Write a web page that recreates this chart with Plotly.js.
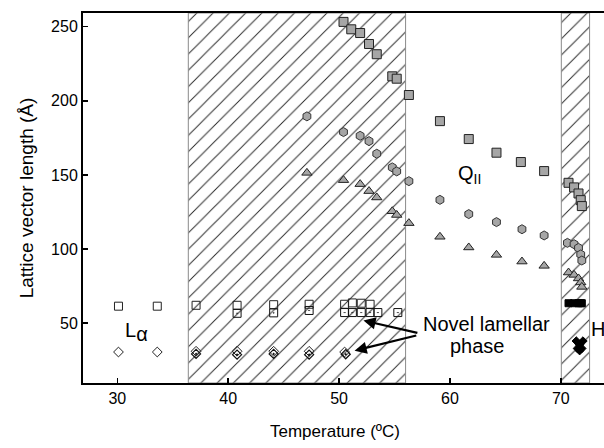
<!DOCTYPE html>
<html>
<head>
<meta charset="utf-8">
<script src="https://cdn.plot.ly/plotly-3.0.1.min.js"></script>
<style>html,body{margin:0;padding:0;background:#fff;}#chart{width:604px;height:448px;}</style>
</head>
<body>
<div id="chart"></div>
<script>
// ---- data (temperature in ºC, lattice vector length in Å) ----
const xRange = [26.9, 73.9];
const yRange = [9.7, 259.2];
const xTicks = [30, 40, 50, 60, 70];
const yTicks = [50, 100, 150, 200, 250];

// two-phase (hatched) regions: [start, end] temperature
const mixRegion1 = [36.4, 56.0];
const mixRegion2 = [70.05, 72.6];

// Q_II cubic phase reflections
const qSquareT = [50.4, 51.1, 51.9, 52.7, 53.4, 54.8, 55.2, 56.3, 59.1, 61.7, 64.2, 66.4, 68.5, 70.7, 71.2, 71.6, 71.8, 71.9];
const qSquareD = [253.2, 248.2, 245.7, 238.3, 231.4, 216.5, 214.9, 203.9, 186.3, 174.2, 165.0, 158.7, 152.6, 144.7, 141.6, 137.5, 133.0, 129.0];
const qHexT = [47.1, 50.4, 51.9, 52.7, 53.4, 54.8, 55.2, 56.3, 59.1, 61.7, 64.2, 66.5, 68.5, 70.6, 71.2, 71.6, 71.8, 71.9];
const qHexD = [189.5, 178.9, 176.4, 172.8, 164.3, 155.1, 152.4, 145.8, 133.2, 123.6, 118.2, 113.4, 109.2, 104.2, 103.3, 100.8, 96.4, 92.3];
const qTriT = [47.1, 50.4, 51.9, 52.7, 53.4, 54.8, 55.2, 56.3, 59.1, 61.7, 64.2, 66.5, 68.5, 70.7, 71.2, 71.6, 71.8, 71.9];
const qTriD = [151.4, 146.5, 143.8, 139.1, 134.8, 125.5, 123.0, 117.5, 108.3, 101.1, 96.1, 91.6, 88.7, 84.2, 82.6, 80.2, 77.5, 74.5];

// L_alpha lamellar phase
const laSquareT = [30.1, 33.6, 37.1, 40.8, 44.1, 47.3, 50.5, 51.2, 52.0, 52.8];
const laSquareD = [61.5, 61.5, 62.1, 62.1, 62.5, 62.8, 62.8, 63.7, 63.5, 62.8];
const laDiamT = [30.1, 33.6, 37.1, 40.8, 44.1, 47.3, 50.5];
const laDiamD = [30.6, 30.6, 31.1, 31.1, 31.1, 31.1, 30.6];

// novel lamellar phase
const nlSquareT = [40.8, 44.1, 47.3, 50.5, 51.2, 52.0, 52.8, 53.5, 55.3];
const nlSquareD = [56.7, 57.0, 58.6, 57.2, 57.2, 57.2, 57.2, 57.2, 57.2];
const nlDiamT = [37.1, 40.8, 44.1, 47.3, 50.6];
const nlDiamD = [29.3, 28.8, 29.3, 28.8, 29.1];

// H (hexagonal) phase
const hSquareT = [70.7, 71.2, 71.6, 71.8, 71.9];
const hSquareD = [63.5, 63.5, 63.5, 63.5, 63.5];
const hDiamT = [71.4, 72.0, 71.7, 71.7, 71.5, 71.9];
const hDiamD = [38.0, 38.0, 35.5, 31.5, 33.0, 33.0];

// ---- traces ----
const FONT = 'Liberation Sans, Arial, Helvetica, sans-serif';
function region(r) {
  return {
    x: [r[0], r[1], r[1], r[0], r[0]],
    y: [yRange[0], yRange[0], yRange[1], yRange[1], yRange[0]],
    mode: 'lines', fill: 'toself', fillcolor: 'rgba(255,255,255,0)',
    fillpattern: {shape: '/', size: 11.5, solidity: 0.085, fgcolor: '#2a2a2a', bgcolor: 'rgba(255,255,255,0)'},
    line: {color: '#8a8a8a', width: 1}, hoverinfo: 'skip', showlegend: false
  };
}
function pts(x, y, symbol, size, fill, lineColor, lw) {
  return {
    x: x, y: y, mode: 'markers', showlegend: false, cliponaxis: false,
    marker: {symbol: symbol, size: size, color: fill, line: {color: lineColor, width: lw}}
  };
}
const grey = '#a6a6a6';
const data = [
  region(mixRegion1),
  region(mixRegion2),
  pts(qSquareT, qSquareD, 'square', 9, grey, '#222', 1),
  pts(qHexT, qHexD, 'hexagon', 9, grey, '#333', 1),
  pts(qTriT, qTriD, 'triangle-up', 9, grey, '#222', 1),
  pts(laSquareT, laSquareD, 'square-open', 8, '#222', '#222', 1),
  pts(laDiamT, laDiamD, 'diamond-open', 7.5, '#222', '#222', 1),
  pts(nlSquareT, nlSquareD, 'square-open-dot', 8, '#111', '#111', 1),
  pts(nlDiamT, nlDiamD, 'diamond-open-dot', 7, '#111', '#111', 1.2),
  pts(hSquareT, hSquareD, 'square', 7, '#000', '#000', 1),
  pts(hDiamT, hDiamD, 'diamond', 6.5, '#000', '#000', 1)
];

const annotations = [
  {text: 'L<sub><span style="font-size:20px">α</span></sub>', x: 31.7, y: 44, xref: 'x', yref: 'y', showarrow: false, font: {family: FONT, size: 20, color: '#000'}},
  {text: 'Q<sub>II</sub>', x: 61.8, y: 150, xref: 'x', yref: 'y', showarrow: false, font: {family: FONT, size: 20, color: '#000'}},
  {text: 'Novel lamellar', x: 63.3, y: 49.5, xref: 'x', yref: 'y', showarrow: false, font: {family: FONT, size: 20, color: '#000'}},
  {text: 'phase', x: 62.5, y: 34.5, xref: 'x', yref: 'y', showarrow: false, font: {family: FONT, size: 20, color: '#000'}},
  {text: 'H', x: 73.4, y: 46, xref: 'x', yref: 'y', showarrow: false, font: {family: FONT, size: 20, color: '#000'}},
  {text: '', x: 52.2, y: 51.8, ax: 57.2, ay: 43.3, xref: 'x', yref: 'y', axref: 'x', ayref: 'y',
   showarrow: true, arrowhead: 2, arrowsize: 1.1, arrowwidth: 2.2, arrowcolor: '#000'},
  {text: '', x: 51.4, y: 31.5, ax: 57.1, ay: 42.0, xref: 'x', yref: 'y', axref: 'x', ayref: 'y',
   showarrow: true, arrowhead: 2, arrowsize: 1.1, arrowwidth: 2.2, arrowcolor: '#000'},
  {text: 'Temperature (ºC)', x: 0.4837, y: -0.132, xref: 'paper', yref: 'paper', showarrow: false,
   xanchor: 'center', yanchor: 'middle', font: {family: FONT, size: 17, color: '#000'}}
];

const layout = {
  width: 604, height: 448,
  margin: {l: 83, r: 0, t: 13, b: 65, pad: 0},
  paper_bgcolor: '#fff', plot_bgcolor: '#fff',
  font: {family: FONT, color: '#000'},
  showlegend: false,
  xaxis: {
    range: xRange, tickvals: xTicks, ticktext: xTicks.map(String),
    ticks: 'inside', ticklen: 5, tickwidth: 1.5, tickcolor: '#000',
    showline: true, linewidth: 2, linecolor: '#000', mirror: true,
    showgrid: false, zeroline: false,
    tickfont: {family: FONT, size: 16, color: '#000'}
  },
  yaxis: {
    range: yRange, tickvals: yTicks, ticktext: yTicks.map(String),
    ticks: 'inside', ticklen: 5, tickwidth: 1.5, tickcolor: '#000',
    showline: true, linewidth: 2, linecolor: '#000',
    showgrid: false, zeroline: false,
    tickfont: {family: FONT, size: 16, color: '#000'},
    title: {text: 'Lattice vector length (Å)', font: {family: FONT, size: 19, color: '#000'}, standoff: 12}
  },
  annotations: annotations
};

Plotly.newPlot('chart', data, layout, {staticPlot: true, displayModeBar: false});
</script>
</body>
</html>
